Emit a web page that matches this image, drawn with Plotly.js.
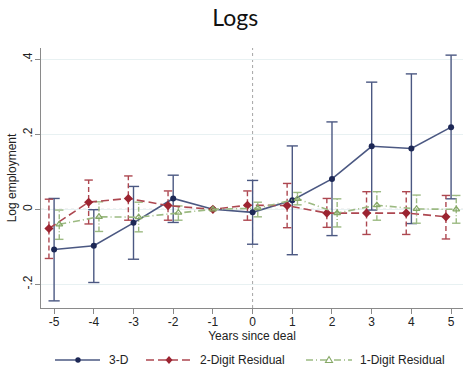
<!DOCTYPE html>
<html>
<head>
<meta charset="utf-8">
<script src="https://cdn.plot.ly/plotly-3.0.1.min.js"></script>
<style>html,body{margin:0;padding:0;background:#fff;}#chart{width:463px;height:368px;}</style>
</head>
<body>
<div id="chart"></div>
<script>
// ---- data ----
const years = [-5, -4, -3, -2, -1, 0, 1, 2, 3, 4, 5];
const refYear = -1;

const d3Est = [-0.107, -0.097, -0.036, 0.029, 0, -0.008, 0.024, 0.081, 0.168, 0.162, 0.219];
const d3Hi  = [0.029, -0.001, 0.061, 0.091, 0, 0.077, 0.169, 0.233, 0.339, 0.361, 0.411];
const d3Lo  = [-0.244, -0.195, -0.133, -0.035, 0, -0.093, -0.121, -0.070, -0.002, -0.038, 0.028];

const d2Est = [-0.051, 0.019, 0.029, 0.010, 0, 0.011, 0.010, -0.010, -0.010, -0.010, -0.020];
const d2Hi  = [0.027, 0.078, 0.089, 0.049, 0, 0.049, 0.069, 0.029, 0.047, 0.047, 0.037];
const d2Lo  = [-0.131, -0.039, -0.029, -0.029, 0, -0.029, -0.049, -0.048, -0.067, -0.067, -0.079];

const d1Est = [-0.040, -0.020, -0.021, -0.009, 0, 0.003, 0.028, -0.010, 0.011, 0.001, 0.000];
const d1Hi  = [-0.002, 0.020, 0.019, 0.009, 0, 0.019, 0.045, 0.028, 0.047, 0.038, 0.037];
const d1Lo  = [-0.080, -0.059, -0.060, -0.029, 0, -0.020, 0.012, -0.047, -0.029, -0.037, -0.037];

const yTickVals = [-0.2, 0, 0.2, 0.4];
const yTickText = ['-.2', '0', '.2', '.4'];
const xTickVals = years;
const xTickText = years.map(String);

const seriesNames = ['3-D', '2-Digit Residual', '1-Digit Residual'];

// ---- styling ----
const cBlueLine = '#4b5882', cBlueMark = '#1d2856';
const cRedLine = '#ad4750', cRedMark = '#9c2431';
const cGreenLine = '#9cba82', cGreenMark = '#86a866';
const redDash = '8px,4px', greenDash = '7px,3px,1px,3px';
const offset = 0.13;
const M = {l: 41, r: 0, t: 48, b: 60};
const W = 463, H = 368;
const PW = W - M.l - M.r, PH = H - M.t - M.b;
const px2x = px => (px - M.l) / PW;
const py2y = py => (H - M.b - py) / PH;

function shift(off) { return years.map(y => y === refYear ? y : y + off); }
const xBlue = shift(0), xRed = shift(-offset), xGreen = shift(offset);

function ciTraces(xs, lo, hi, color, dash, capSize) {
  const lx = [], ly = [], cx = [], cy = [];
  xs.forEach((x, i) => {
    if (hi[i] === lo[i]) return;
    lx.push(x, x, null); ly.push(lo[i], hi[i], null);
    cx.push(x, x); cy.push(lo[i], hi[i]);
  });
  return [
    {x: lx, y: ly, mode: 'lines', line: {color: color, width: 1.4, dash: dash}, showlegend: false, hoverinfo: 'skip'},
    {x: cx, y: cy, mode: 'markers', marker: {symbol: 'line-ew-open', size: capSize, color: color, line: {color: color, width: 1.4}}, showlegend: false, hoverinfo: 'skip'}
  ];
}

const traces = [].concat(
  ciTraces(xBlue, d3Lo, d3Hi, cBlueLine, 'solid', 8),
  ciTraces(xRed, d2Lo, d2Hi, cRedLine, '5px,3px', 6),
  ciTraces(xGreen, d1Lo, d1Hi, cGreenLine, '5px,2px,1px,2px', 6),
  [
    {x: xBlue, y: d3Est, name: seriesNames[0], mode: 'lines+markers',
     line: {color: cBlueLine, width: 1.6}, marker: {symbol: 'circle', size: 6, color: cBlueMark}},
    {x: xRed, y: d2Est, name: seriesNames[1], mode: 'lines+markers',
     line: {color: cRedLine, width: 1.6, dash: redDash}, marker: {symbol: 'diamond', size: 7, color: cRedMark}},
    {x: xGreen, y: d1Est, name: seriesNames[2], mode: 'lines+markers',
     line: {color: cGreenLine, width: 1.6, dash: greenDash}, marker: {symbol: 'triangle-up-open', size: 6, color: cGreenMark, line: {color: cGreenMark, width: 1.2}}}
  ]
);

// ---- manual legend (paper coordinates derived from pixel layout) ----
const legY = 360;
const legItems = [
  {x0: 55, x1: 100, mx: 78, tx: 108, color: cBlueLine, mcolor: cBlueMark, dash: 'solid', sym: 'circle'},
  {x0: 146, x1: 192, mx: 169, tx: 199, color: cRedLine, mcolor: cRedMark, dash: redDash, sym: 'diamond'},
  {x0: 306, x1: 352, mx: 329, tx: 359, color: cGreenLine, mcolor: cGreenMark, dash: greenDash, sym: 'triangle'}
];
const legShapes = [], legAnn = [];
legItems.forEach((it, i) => {
  legShapes.push({type: 'line', xref: 'paper', yref: 'paper', x0: px2x(it.x0), x1: px2x(it.x1), y0: py2y(legY), y1: py2y(legY),
                  line: {color: it.color, width: 1.6, dash: it.dash}});
  let path;
  if (it.sym === 'circle') {
    legShapes.push({type: 'circle', xref: 'paper', yref: 'paper', x0: px2x(it.mx - 2.7), x1: px2x(it.mx + 2.7), y0: py2y(legY - 2.7), y1: py2y(legY + 2.7),
                    fillcolor: it.mcolor, line: {color: it.mcolor, width: 0}});
  } else if (it.sym === 'diamond') {
    path = `M ${px2x(it.mx)},${py2y(legY - 4)} L ${px2x(it.mx + 3.5)},${py2y(legY)} L ${px2x(it.mx)},${py2y(legY + 4)} L ${px2x(it.mx - 3.5)},${py2y(legY)} Z`;
    legShapes.push({type: 'path', xref: 'paper', yref: 'paper', path: path, fillcolor: it.mcolor, line: {color: it.mcolor, width: 0}});
  } else {
    path = `M ${px2x(it.mx)},${py2y(legY - 3.5)} L ${px2x(it.mx + 3.5)},${py2y(legY + 2.5)} L ${px2x(it.mx - 3.5)},${py2y(legY + 2.5)} Z`;
    legShapes.push({type: 'path', xref: 'paper', yref: 'paper', path: path, fillcolor: '#ffffff', line: {color: it.mcolor, width: 1.1}});
  }
  legAnn.push({text: seriesNames[i], xref: 'paper', yref: 'paper', x: px2x(it.tx), y: py2y(legY), xanchor: 'left', yanchor: 'middle',
               showarrow: false, font: {size: 12, color: '#222'}, xshift: -1});
});

const axisColor = '#8a8a8a';
const layout = {
  width: W, height: H,
  margin: {l: M.l, r: M.r, t: M.t, b: M.b},
  paper_bgcolor: '#ffffff', plot_bgcolor: '#ffffff',
  font: {family: 'Liberation Sans, Arial, sans-serif', size: 12, color: '#222'},
  title: {text: 'Logs', x: 0.508, xanchor: 'center', y: 0.95, yanchor: 'middle',
          font: {family: 'Lato, Open Sans, sans-serif', size: 23, color: '#111'}},
  xaxis: {
    range: [-5.33, 5.30], tickvals: xTickVals, ticktext: xTickText,
    showgrid: false, zeroline: false, showline: true, linecolor: axisColor, linewidth: 1,
    ticks: 'outside', ticklen: 5, tickcolor: axisColor, tickfont: {size: 12}, ticklabelstandoff: -2,
    title: {text: 'Years since deal', font: {size: 12}, standoff: 0}, automargin: false
  },
  yaxis: {
    range: [-0.263, 0.43], tickvals: yTickVals, ticktext: yTickText, tickangle: -90,
    showgrid: true, gridcolor: '#e8f1f2', gridwidth: 1, zeroline: false,
    showline: true, linecolor: axisColor, linewidth: 1,
    ticks: 'outside', ticklen: 5, tickcolor: axisColor, tickfont: {size: 12}, ticklabelstandoff: -2,
    title: {text: 'Log employment', font: {size: 12}, standoff: 2}, automargin: false
  },
  shapes: [
    {type: 'line', xref: 'paper', x0: 0, x1: 1, yref: 'y', y0: 0, y1: 0,
     line: {color: '#b0b0b0', width: 1, dash: 'dot'}, layer: 'below'},
    {type: 'line', xref: 'x', x0: 0, x1: 0, yref: 'paper', y0: 0, y1: 1,
     line: {color: '#a5a5a5', width: 1, dash: 'dot'}, layer: 'below'}
  ].concat(legShapes),
  annotations: legAnn,
  showlegend: false
};

Plotly.newPlot('chart', traces, layout, {displayModeBar: false, staticPlot: true});
</script>
</body>
</html>
